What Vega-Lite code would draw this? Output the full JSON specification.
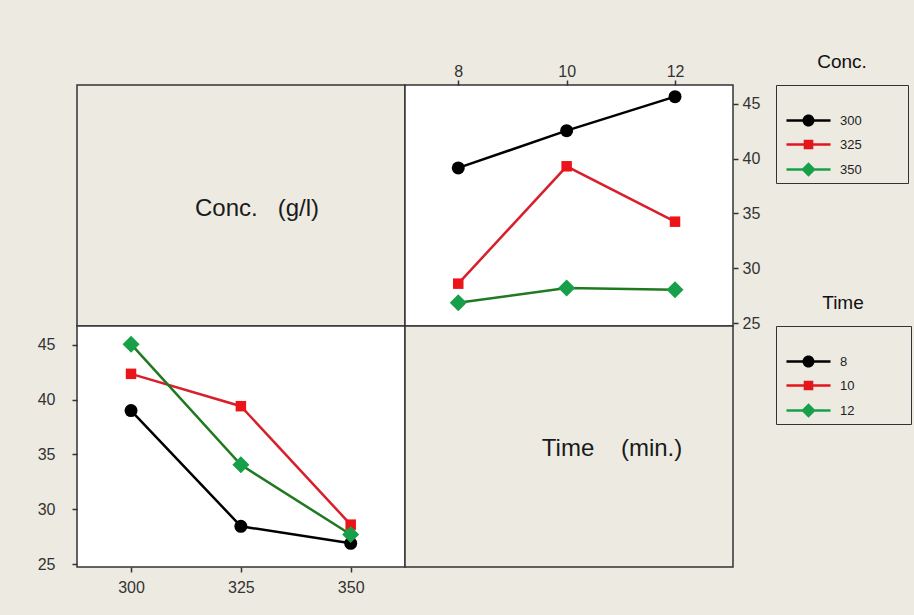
{
  "$schema": "https://vega.github.io/schema/vega-lite/v6.json",
  "background": "#EDEAE2",
  "padding": {"left": 36, "top": 62, "right": 8, "bottom": 20},
  "datasets": {
    "byTime": [
      {"Conc": 300, "Time": 8, "Mean": 39.15},
      {"Conc": 300, "Time": 10, "Mean": 42.55},
      {"Conc": 300, "Time": 12, "Mean": 45.65},
      {"Conc": 325, "Time": 8, "Mean": 28.6},
      {"Conc": 325, "Time": 10, "Mean": 39.3},
      {"Conc": 325, "Time": 12, "Mean": 34.25},
      {"Conc": 350, "Time": 8, "Mean": 26.85},
      {"Conc": 350, "Time": 10, "Mean": 28.2},
      {"Conc": 350, "Time": 12, "Mean": 28.05}
    ],
    "byConc": [
      {"Time": 8, "Conc": 300, "Mean": 39.0},
      {"Time": 8, "Conc": 325, "Mean": 28.45},
      {"Time": 8, "Conc": 350, "Mean": 26.9},
      {"Time": 10, "Conc": 300, "Mean": 42.35},
      {"Time": 10, "Conc": 325, "Mean": 39.4},
      {"Time": 10, "Conc": 350, "Mean": 28.6},
      {"Time": 12, "Conc": 300, "Mean": 45.05},
      {"Time": 12, "Conc": 325, "Mean": 34.05},
      {"Time": 12, "Conc": 350, "Mean": 27.7}
    ]
  },
  "columns": 2,
  "spacing": 0,
  "bounds": "flush",
  "concat": [
    {
      "width": 328,
      "height": 241,
      "data": {"values": [{"label": "Conc.\u00a0\u00a0\u00a0(g/l)"}]},
      "view": {"fill": "#EDEAE2", "stroke": "#333333", "strokeWidth": 1.5},
      "mark": {"type": "text", "fontSize": 24, "font": "Liberation Sans", "color": "#1a1a1a", "dx": 16, "dy": 3},
      "encoding": {"text": {"field": "label"}}
    },
    {
      "width": 328,
      "height": 241,
      "data": {"name": "byTime"},
      "view": {"fill": "white", "stroke": "#333333", "strokeWidth": 1.5},
      "encoding": {
        "x": {"field": "Time", "type": "quantitative", "scale": {"domain": [7.017, 13.07], "nice": false, "zero": false},
              "axis": {"orient": "top", "values": [8, 10, 12], "labelPadding": 1, "title": null}},
        "y": {"field": "Mean", "type": "quantitative", "scale": {"domain": [24.74, 46.71], "nice": false, "zero": false},
              "axis": {"orient": "right", "values": [25, 30, 35, 40, 45], "labelPadding": 4, "title": null}}
      },
      "layer": [
        {
          "mark": {"type": "line", "strokeWidth": 2.5},
          "encoding": {
            "stroke": {"field": "Conc", "type": "nominal",
              "scale": {"domain": [300, 325, 350], "range": ["#000000", "#D8202A", "#1F7A1F"]},
              "legend": {"title": "Conc.", "legendX": 371, "legendY": 0,
                "labelExpr": "datum.label + '\u2800\u2800\u2800\u2800'",
                "encode": {"symbols": {"update": {
                  "shape": {"signal": "datum.value == 300 ? 'M-3.67,-0.22H3.67V0.22H-3.67ZM1,0A1,1,0,1,1,-1,0A1,1,0,1,1,1,0Z' : datum.value == 325 ? 'M-3.67,-0.22H3.67V0.22H-3.67ZM-0.8,-0.8H0.8V0.8H-0.8Z' : 'M-3.67,-0.22H3.67V0.22H-3.67ZM0,-1.2L1.2,0L0,1.2L-1.2,0Z'"},
                  "size": {"value": 144},
                  "fill": {"signal": "datum.value == 300 ? '#000000' : datum.value == 325 ? '#E3161D' : '#17A049'"},
                  "strokeWidth": {"value": 0},
                  "opacity": {"value": 1}
                }}}}
            }
          }
        },
        {
          "mark": {"type": "point", "filled": true, "opacity": 1, "strokeWidth": 0},
          "encoding": {
            "fill": {"field": "Conc", "type": "nominal",
              "scale": {"range": ["#000000", "#EA1419", "#17A049"]},
              "legend": null},
            "shape": {"field": "Conc", "type": "nominal",
              "scale": {"range": ["circle", "square", "diamond"]},
              "legend": null},
            "size": {"field": "Conc", "type": "nominal",
              "scale": {"type": "ordinal", "range": [169, 110, 289]}, "legend": null}
          }
        }
      ]
    },
    {
      "width": 328,
      "height": 241,
      "data": {"name": "byConc"},
      "view": {"fill": "white", "stroke": "#333333", "strokeWidth": 1.5},
      "encoding": {
        "x": {"field": "Conc", "type": "quantitative", "scale": {"domain": [287.7, 362.36], "nice": false, "zero": false},
              "axis": {"orient": "bottom", "values": [300, 325, 350], "labelPadding": 7, "title": null}},
        "y": {"field": "Mean", "type": "quantitative", "scale": {"domain": [24.74, 46.71], "nice": false, "zero": false},
              "axis": {"orient": "left", "values": [25, 30, 35, 40, 45], "labelPadding": 17, "title": null}}
      },
      "layer": [
        {
          "mark": {"type": "line", "strokeWidth": 2.5},
          "encoding": {
            "stroke": {"field": "Time", "type": "nominal",
              "scale": {"domain": [8, 10, 12], "range": ["#000000", "#D8202A", "#1F7A1F"]},
              "legend": {"title": "Time", "legendX": 699, "legendY": 0,
                "labelExpr": "(datum.value < 10 ? '\u2007' : '') + datum.label + '\u2800\u2800\u2800\u2800\u2800'",
                "encode": {"symbols": {"update": {
                  "shape": {"signal": "datum.value == 8 ? 'M-3.67,-0.22H3.67V0.22H-3.67ZM1,0A1,1,0,1,1,-1,0A1,1,0,1,1,1,0Z' : datum.value == 10 ? 'M-3.67,-0.22H3.67V0.22H-3.67ZM-0.8,-0.8H0.8V0.8H-0.8Z' : 'M-3.67,-0.22H3.67V0.22H-3.67ZM0,-1.2L1.2,0L0,1.2L-1.2,0Z'"},
                  "size": {"value": 144},
                  "fill": {"signal": "datum.value == 8 ? '#000000' : datum.value == 10 ? '#E3161D' : '#17A049'"},
                  "strokeWidth": {"value": 0},
                  "opacity": {"value": 1}
                }}}}
            }
          }
        },
        {
          "mark": {"type": "point", "filled": true, "opacity": 1, "strokeWidth": 0},
          "encoding": {
            "fill": {"field": "Time", "type": "nominal",
              "scale": {"range": ["#000000", "#EA1419", "#17A049"]},
              "legend": null},
            "shape": {"field": "Time", "type": "nominal",
              "scale": {"range": ["circle", "square", "diamond"]},
              "legend": null},
            "size": {"field": "Time", "type": "nominal",
              "scale": {"type": "ordinal", "range": [169, 110, 289]}, "legend": null}
          }
        }
      ]
    },
    {
      "width": 328,
      "height": 241,
      "data": {"values": [{"label": "Time\u00a0\u00a0\u00a0\u00a0(min.)"}]},
      "view": {"fill": "#EDEAE2", "stroke": "#333333", "strokeWidth": 1.5},
      "mark": {"type": "text", "fontSize": 24, "font": "Liberation Sans", "color": "#1a1a1a", "dx": 43, "dy": 2},
      "encoding": {"text": {"field": "label"}}
    }
  ],
  "resolve": {
    "scale": {"x": "independent", "y": "independent", "stroke": "independent", "fill": "independent", "shape": "independent", "size": "independent"},
    "legend": {"stroke": "independent"}
  },
  "config": {
    "axis": {"domain": false, "grid": false, "tickSize": 5, "tickColor": "#333333", "tickWidth": 1.5,
             "labelFontSize": 16, "labelFont": "Liberation Sans", "labelColor": "#333333"},
    "legend": {"orient": "none", "direction": "vertical", "padding": 6, "strokeColor": "#333333",
               "symbolSize": 144, "symbolOffset": 20, "labelOffset": 25, "rowPadding": 10,
               "labelFontSize": 13, "labelFont": "Liberation Sans", "labelColor": "#222222",
               "titleFont": "Liberation Sans", "titleFontSize": 19, "titleFontWeight": "normal", "titleColor": "#111111",
               "titleBaseline": "line-bottom", "titleLineHeight": 57, "titlePadding": 4, "titleAnchor": "middle",
               "symbolStrokeWidth": 0}
  }
}
